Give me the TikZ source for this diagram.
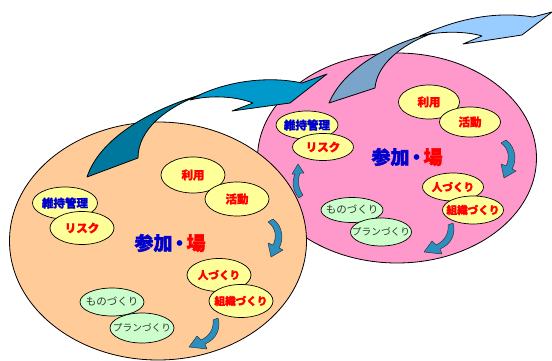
\documentclass[tikz,border=0pt]{standalone}
\usepackage{fontspec}
\newfontfamily\jp{Noto Sans CJK JP}[BoldFeatures={FakeBold=1.6}]
\usetikzlibrary{shapes.geometric}
\definecolor{orangeF}{HTML}{FFCC99}
\definecolor{pinkF}{HTML}{FF99CC}
\definecolor{yelF}{HTML}{FFFF99}
\definecolor{grnF}{HTML}{CCFFCC}
\definecolor{redT}{HTML}{FF0000}
\definecolor{blueT}{HTML}{0000CC}
\definecolor{grayT}{HTML}{333333}
\definecolor{arrOneL}{HTML}{0099CC}
\definecolor{arrOneD}{HTML}{00789E}
\definecolor{arrTwoL}{HTML}{99CCFF}
\definecolor{arrTwoD}{HTML}{7BA4CB}
\definecolor{arrS}{HTML}{2B8FC0}
\tikzset{
  bigE/.style={ellipse, draw=black, line width=0.8pt, inner sep=0pt},
  yel/.style={ellipse, draw=black, line width=0.7pt, fill=yelF, inner sep=0pt},
  grn/.style={ellipse, draw=black, line width=0.7pt, fill=grnF, inner sep=0pt},
  rt/.style={inner sep=0pt, text=redT, font=\jp\bfseries\fontsize{11.5}{11.5}\selectfont},
  rtk/.style={inner sep=0pt, text=redT, font=\jp\bfseries\fontsize{10.6}{10.6}\selectfont},
  bt/.style={inner sep=0pt, text=blueT, font=\jp\bfseries\fontsize{11.5}{11.5}\selectfont},
  gt/.style={inner sep=0pt, text=grayT, font=\jp\fontsize{10.5}{10.5}\selectfont},
  gtk/.style={inner sep=0pt, text=grayT, font=\jp\fontsize{9.7}{9.7}\selectfont},
  title/.style={inner sep=0pt, font=\jp\bfseries\fontsize{19}{19}\selectfont},
  bigarr/.style={draw=black, line width=0.8pt, line join=round},
  smallarr/.style={fill=arrS, draw=black!80, line width=0.5pt, line join=round},
}
\newcommand{\fieldtitle}{\textcolor{blueT}{参加\kern-2.5pt・}\kern-2.5pt\textcolor{redT}{場}}
\begin{document}
\begin{tikzpicture}[x=1pt,y=-1pt]
\useasboundingbox (0,0) rectangle (552,361);
% ---------- pink field ----------
\node[bigE, fill=pinkF, minimum width=279pt, minimum height=210pt] (pinkE) at (397,158) {};
\node[yel, minimum width=61pt, minimum height=34pt] (p1) at (429,102) {};
\node[rt] (p1t) at (p1) {利用};
\node[yel, minimum width=61pt, minimum height=30pt] (p2) at (470,122) {};
\node[rt] (p2t) at (p2) {活動};
\node[yel, minimum width=62pt, minimum height=28pt] (p3) at (307,125) {};
\node[bt] (p3t) at (p3) {維持管理};
\node[yel, minimum width=61pt, minimum height=27pt] (p4) at (323,147) {};
\node[rt] (p4t) at (p4) {リスク};
\node[yel, minimum width=61pt, minimum height=28pt] (p5) at (453,187) {};
\node[rtk] (p5t) at (p5) {人づくり};
\node[yel, minimum width=61pt, minimum height=28pt] (p6) at (473,210) {};
\node[rtk] (p6t) at (p6) {組織づくり};
\node[grn, minimum width=62pt, minimum height=25pt] (p7) at (352,210) {};
\node[gt] (p7t) at (p7) {ものづくり};
\node[grn, minimum width=61pt, minimum height=28pt] (p8) at (381,232) {};
\node[gtk] (p8t) at (p8) {プランづくり};
\node[title] (pT) at (407,157) {\fieldtitle};
% ---------- orange field ----------
\node[bigE, fill=orangeF, minimum width=297pt, minimum height=238pt] (oraE) at (158,241) {};
\node[yel, minimum width=64pt, minimum height=36pt] (o1) at (193,175) {};
\node[rt] (o1t) at (o1) {利用};
\node[yel, minimum width=64pt, minimum height=34pt] (o2) at (237,199) {};
\node[rt] (o2t) at (o2) {活動};
\node[yel, minimum width=65pt, minimum height=32pt] (o3) at (65,203) {};
\node[bt] (o3t) at (o3) {維持管理};
\node[yel, minimum width=64pt, minimum height=33pt] (o4) at (82,228) {};
\node[rt] (o4t) at (o4) {リスク};
\node[yel, minimum width=64pt, minimum height=33pt] (o5) at (219,275) {};
\node[rtk] (o5t) at (o5) {人づくり};
\node[yel, minimum width=64pt, minimum height=33pt] (o6) at (241,301) {};
\node[rtk] (o6t) at (o6) {組織づくり};
\node[grn, minimum width=64pt, minimum height=28pt] (o7) at (112,302) {};
\node[gt] (o7t) at (o7) {ものづくり};
\node[grn, minimum width=64pt, minimum height=30pt] (o8) at (142,328) {};
\node[gtk] (o8t) at (o8) {プランづくり};
\node[title] (oT) at (170,243) {\fieldtitle};
% ---------- big arrow 1 ----------
\draw[bigarr, fill=arrOneL] (190,100) .. controls (215,85) and (260,74) .. (302,83)
  -- (327,74) -- (290,103) -- (232,111) -- (253,103)
  .. controls (235,96) and (210,95) .. (190,100) -- cycle;
\draw[bigarr, fill=arrOneD] (87,177) -- (138,158)
  .. controls (138,130) and (165,108) .. (200,95)
  .. controls (150,110) and (100,138) .. (87,177) -- cycle;
% ---------- big arrow 2 ----------
\draw[bigarr, fill=arrTwoL] (420,36) .. controls (450,22) and (490,10) .. (533,17)
  -- (552,12) -- (522,35) -- (463,44) -- (482,36)
  .. controls (465,31) and (440,31) .. (420,36) -- cycle;
\draw[bigarr, fill=arrTwoD] (329,103) -- (375,88)
  .. controls (377,65) and (400,45) .. (433,33)
  .. controls (395,42) and (345,65) .. (329,103) -- cycle;
% ---------- small curved arrows ----------
\draw[smallarr] (268,222) -- (273,219) .. controls (283,226) and (284,240) .. (279,248)
  -- (283,250) -- (271,257) -- (268,243) -- (273,245)
  .. controls (277,237) and (276,228) .. (268,222) -- cycle;
\draw[smallarr] (213,320) -- (218,318) .. controls (221,328) and (217,339) .. (205,344)
  -- (207,349) -- (189,347) -- (197,336) -- (201,340)
  .. controls (210,336) and (214,328) .. (213,320) -- cycle;
\begin{scope}[shift={(233,-79)}]
\draw[smallarr] (268,222) -- (273,219) .. controls (283,226) and (284,240) .. (279,248)
  -- (283,250) -- (271,257) -- (268,243) -- (273,245)
  .. controls (277,237) and (276,228) .. (268,222) -- cycle;
\end{scope}
\begin{scope}[shift={(235,-95)}]
\draw[smallarr] (213,320) -- (218,318) .. controls (221,328) and (217,339) .. (205,344)
  -- (207,349) -- (189,347) -- (197,336) -- (201,340)
  .. controls (210,336) and (214,328) .. (213,320) -- cycle;
\end{scope}
\draw[smallarr] (298,164) -- (304,173) -- (300,173)
  .. controls (297,180) and (298,188) .. (303,195) -- (299,198)
  .. controls (292,190) and (292,181) .. (295,174) -- (292,174) -- cycle;
\end{tikzpicture}
\end{document}
